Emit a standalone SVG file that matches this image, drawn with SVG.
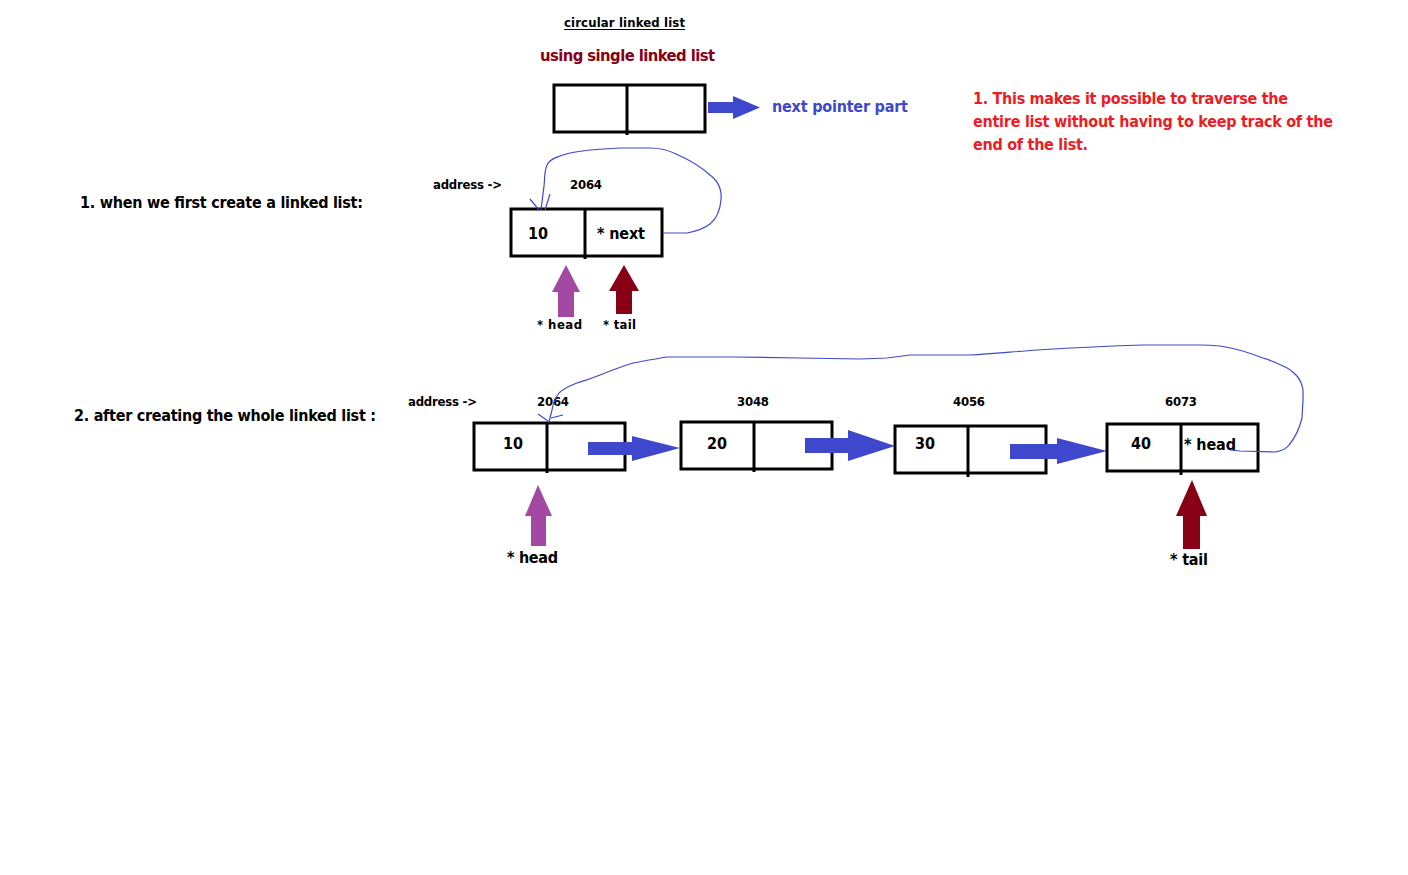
<svg xmlns="http://www.w3.org/2000/svg" width="1408" height="875" viewBox="0 0 1408 875">
<style>
text{font-family:"DejaVu Sans Condensed","DejaVu Sans",sans-serif;font-weight:bold;fill:#000}
.s13{font-size:13px}
.s16{font-size:16px}
.box{fill:#fff;stroke:#000;stroke-width:3}
.div{stroke:#000;stroke-width:3}
.blue{fill:#3f48cc}
.purple{fill:#a349a4}
.dred{fill:#880015}
.curve{fill:none;stroke:#3f48cc;stroke-width:1.2}
</style>
<rect width="1408" height="875" fill="#fff"/>

<g id="title">
<text x="564" y="27" class="s13" textLength="121">circular linked list</text>
<line x1="564" y1="29.5" x2="685" y2="29.5" stroke="#000" stroke-width="1"/>
<text x="540" y="61" font-size="16.5" style="fill:#880015" textLength="175">using single linked list</text>
</g>

<g id="legend">
<rect class="box" x="554" y="85" width="151" height="47"/>
<line class="div" x1="627" y1="85" x2="627" y2="135"/>
<polygon class="blue" points="708,102 733,102 733,96 760,107.5 733,119 733,113 708,113"/>
<text x="772" y="112" class="s16" style="fill:#3f48cc" textLength="136">next pointer part</text>
</g>

<g id="note" style="fill:#ed1c24">
<text x="973" y="104" class="s16" style="fill:#ed1c24" textLength="315">1. This makes it possible to traverse the</text>
<text x="973" y="127" class="s16" style="fill:#ed1c24" textLength="360">entire list without having to keep track of the</text>
<text x="973" y="150" class="s16" style="fill:#ed1c24" textLength="115">end of the list.</text>
</g>

<g id="section1">
<text x="80" y="208" class="s16" textLength="283">1. when we first create a linked list:</text>
<text x="433" y="189" class="s13" textLength="69">address -&gt;</text>
<text x="570" y="189" class="s13" textLength="32">2064</text>
</g>

<g id="node1-single">
<rect class="box" x="511" y="209" width="151" height="47"/>
<line class="div" x1="585" y1="209" x2="585" y2="259"/>
<text x="528" y="239" class="s16" textLength="20">10</text>
<text x="597" y="239" class="s16" textLength="48">* next</text>
</g>

<g id="pointers1">
<polygon class="purple" points="566,265 580,292 574,292 574,317 558,317 558,292 552,292"/>
<polygon class="dred" points="624,265 639,291 632,291 632,314 616,314 616,291 609,291"/>
<text x="537" y="329" class="s13" textLength="45">* head</text>
<text x="603" y="329" class="s13" textLength="33">* tail</text>
</g>

<g id="section2">
<text x="74" y="421" class="s16" textLength="302">2. after creating the whole linked list :</text>
<text x="408" y="406" class="s13" textLength="69">address -&gt;</text>
<text x="537" y="406" class="s13" textLength="32">2064</text>
<text x="737" y="406" class="s13" textLength="32">3048</text>
<text x="953" y="406" class="s13" textLength="32">4056</text>
<text x="1165" y="406" class="s13" textLength="32">6073</text>
</g>

<g id="node-10">
<rect class="box" x="474" y="423" width="151" height="47"/>
<line class="div" x1="547" y1="423" x2="547" y2="473"/>
<text x="503" y="449" class="s16" textLength="20">10</text>
</g>
<g id="node-20">
<rect class="box" x="681" y="422" width="151" height="47"/>
<line class="div" x1="754" y1="422" x2="754" y2="472"/>
<text x="707" y="449" class="s16" textLength="20">20</text>
</g>
<g id="node-30">
<rect class="box" x="895" y="426" width="151" height="47"/>
<line class="div" x1="968" y1="426" x2="968" y2="477"/>
<text x="915" y="449" class="s16" textLength="20">30</text>
</g>
<g id="node-40">
<rect class="box" x="1107" y="424" width="151" height="47"/>
<line class="div" x1="1181" y1="424" x2="1181" y2="475"/>
<text x="1131" y="449" class="s16" textLength="20">40</text>
<text x="1184" y="450" class="s16" textLength="52">* head</text>
</g>

<g id="pointers2">
<polygon class="purple" points="538,485 552,516 546,516 546,546 531,546 531,516 525,516"/>
<text x="507" y="563" class="s16" textLength="51">* head</text>
<polygon class="dred" points="1192,480 1207,516 1200,516 1200,549 1183,549 1183,516 1176,516"/>
<text x="1170" y="565" class="s16" textLength="38">* tail</text>
</g>

<g id="connectors">
<polygon class="blue" points="588,442 632,442 632,436 680,448 632,461 632,455 588,455"/>
<polygon class="blue" points="805,438 848,438 848,430 895,446 848,461 848,453 805,453"/>
<polygon class="blue" points="1010,444 1057,444 1057,438 1107,451 1057,464 1057,459 1010,459"/>
<path class="curve" d="M663,233 L687,233 C697,231 705,228 710,224 C716,219 720,211 721,200 C722,190 718,181 710,175 C700,166 690,160 676,154 C668,150 660,148 650,148 L620,148 C600,149 584,150 570,153 C558,156 550,159 547,165 C544,172 545,178 544,186 L541,210"/>
<path class="curve" d="M530,199 L539,210 M550,194 L545,210"/>
<path class="curve" d="M1230,450 L1240,451 L1275,452 C1282,451 1286,449 1289,445 C1295,438 1299,430 1302,418 L1303,400 L1303,390 C1302,384 1300,379 1296,375 C1292,371 1288,368 1283,366 C1277,363 1270,360 1263,358 C1250,353 1235,348 1220,346 C1210,345 1205,345 1200,345 L1143,345 C1110,346 1070,348 1037,350 C1010,352 990,354 970,355 L910,355 L887,358 L860,359 L800,358 L733,357 L667,357 C654,359 644,361 633,363 C620,367 610,371 600,375 C590,379 583,381 577,383 C569,386 563,389 559,393 C555,398 553,404 552,410 L549,422"/>
<path class="curve" d="M538,414 L548,421 M563,415 L551,418"/>
</g>
</svg>
